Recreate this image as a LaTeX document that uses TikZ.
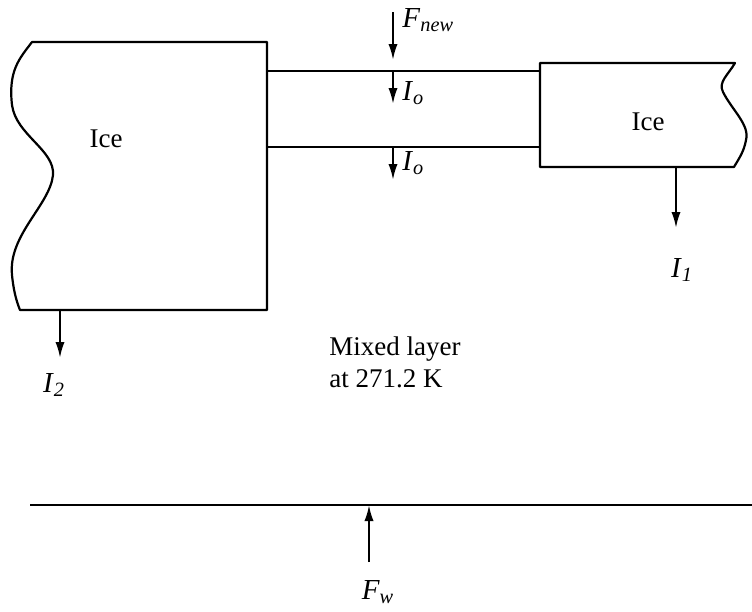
\documentclass[tikz,border=0pt]{standalone}
\usepackage{fontspec}
\setmainfont{Liberation Serif}
\usetikzlibrary{arrows.meta,positioning}
\newcommand{\qsym}[2]{\textit{#1}\textsubscript{\textit{#2}}}

\begin{document}
\begin{tikzpicture}[
  x=0.5pt, y=-0.5pt,
  every node/.style={font=\fontsize{13.5}{16}\selectfont},
  edge/.style={draw, line width=1.1pt, line join=round},
  flux/.style={draw, line width=1.1pt, -{Latex[length=8pt,width=4.6pt]}},
  lbl/.style={inner sep=1pt, font=\fontsize{14.5}{16}\selectfont}
]
\useasboundingbox (0,0) rectangle (752,612);

% ice blocks and channel
\draw[edge] (267,42) -- (32,42)
  .. controls (20,58) and (8,70) .. (12,105)
  .. controls (16,135) and (55,150) .. (53,175)
  .. controls (50,205) and (8,235) .. (12,275)
  .. controls (14,295) and (18,305) .. (20,310)
  -- (267,310) -- cycle;
\draw[edge] (267,71) -- (540,71);
\draw[edge] (267,147) -- (540,147);
\draw[edge] (540,63) -- (735,63)
  .. controls (728,75) and (718,82) .. (723,92)
  .. controls (732,110) and (750,125) .. (746,140)
  .. controls (744,152) and (738,160) .. (734,167)
  -- (540,167) -- cycle;
\draw[edge] (30,505) -- (752,505);

\node (iceleft) at (106,139) {Ice};
\node (iceright) at (648,122) {Ice};
\node[align=left] (mixed) at (395,362) {Mixed layer\\at 271.2 K};

% fluxes
\coordinate (fnewtop) at (393,12);
\coordinate (fnewtip) at (393,60);
\coordinate (iotop) at (393,71);
\coordinate (iotip) at (393,104);
\coordinate (iobtop) at (393,147);
\coordinate (iobtip) at (393,180);
\coordinate (ionetop) at (676,167);
\coordinate (ionetip) at (676,228);
\coordinate (itwotop) at (60,310);
\coordinate (itwotip) at (60,358);
\coordinate (fwbot) at (369,562);
\coordinate (fwtip) at (369,505);

\node[lbl, anchor=west] (fnew) at (400,20) {\qsym{F}{new}};
\node[lbl, anchor=west] (io) at (400,93) {\qsym{I}{o}};
\node[lbl, anchor=west] (iob) at (400,163) {\qsym{I}{o}};
\node[lbl] (ione) at (682,270) {\qsym{I}{1}};
\node[lbl] (itwo) at (54,385) {\qsym{I}{2}};
\node[lbl] (fw) at (378,592) {\qsym{F}{w}};

\draw[flux] (fnewtop) -- (fnewtip);
\draw[flux] (iotop) -- (iotip);
\draw[flux] (iobtop) -- (iobtip);
\draw[flux] (ionetop) -- (ionetip);
\draw[flux] (itwotop) -- (itwotip);
\draw[flux] (fwbot) -- (fwtip);
\end{tikzpicture}
\end{document}
